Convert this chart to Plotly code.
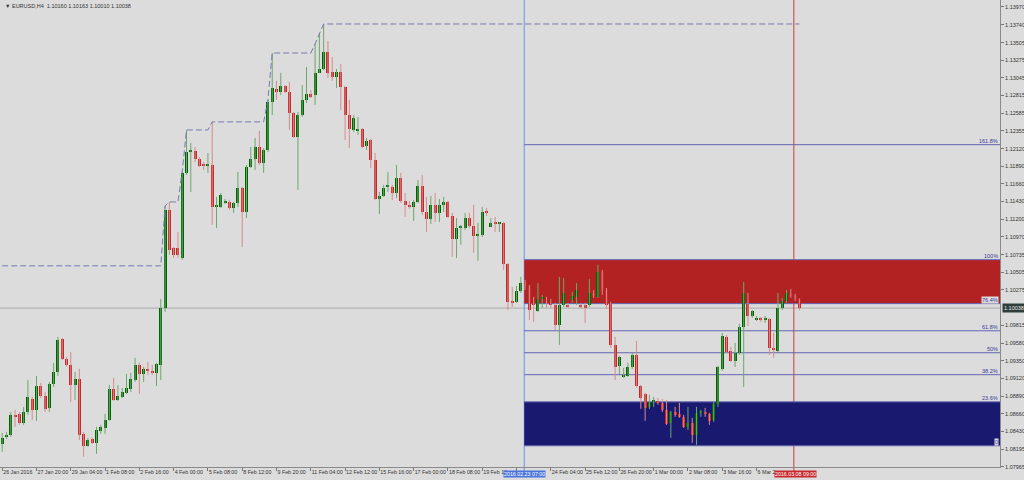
import numpy as np
import plotly.graph_objects as go

header_text = "EURUSD,H4  1.10160 1.10163 1.10010 1.10038"

opens = [1.08265, 1.08357, 1.08383, 1.08644, 1.08657, 1.08539, 1.08683, 1.08852, 1.08709, 1.09022,
         1.08891, 1.08735, 1.09048, 1.09205, 1.09636, 1.09375, 1.09297, 1.09035, 1.09114, 1.08396,
         1.08239, 1.08330, 1.08278, 1.08435, 1.08474, 1.08578, 1.08983, 1.08839, 1.08878, 1.08931,
         1.08983, 1.09100, 1.09297, 1.09179, 1.09231, 1.09218, 1.09192, 1.09297, 1.10041, 1.11320,
         1.10824, 1.10824, 1.10693, 1.11803, 1.12077, 1.12090, 1.11985, 1.11920, 1.11894, 1.11907,
         1.11359, 1.11359, 1.11411, 1.11424, 1.11346, 1.11411, 1.11607, 1.11294, 1.11881, 1.11985,
         1.12142, 1.11933, 1.12103, 1.12730, 1.12899, 1.12860, 1.12938, 1.12860, 1.12586, 1.12273,
         1.12560, 1.12756, 1.12834, 1.12821, 1.13108, 1.13160, 1.13382, 1.13121, 1.13056, 1.13121,
         1.12925, 1.12560, 1.12364, 1.12351, 1.12377, 1.12155, 1.12233, 1.11972, 1.11463, 1.11502,
         1.11620, 1.11620, 1.11542, 1.11737, 1.11437, 1.11385, 1.11359, 1.11424, 1.11633, 1.11294,
         1.11202, 1.11385, 1.11281, 1.11385, 1.11424, 1.11241, 1.10941, 1.11085, 1.11085, 1.11215,
         1.11111, 1.10980, 1.10993, 1.11294, 1.11098, 1.11150, 1.11137, 1.11150, 1.10614, 1.10132,
         1.10119, 1.10262, 1.10380, 1.10314, 1.10106, 1.10001, 1.10158, 1.10119, 1.10106, 1.10080,
         1.09819, 1.10080, 1.10080, 1.10145, 1.10184, 1.10080, 1.10080, 1.10080, 1.10236, 1.10184,
         1.10511, 1.10275, 1.10106, 1.09558, 1.09284, 1.09140, 1.09153, 1.09271, 1.09427, 1.09022,
         1.08918, 1.08748, 1.08813, 1.08813, 1.08800, 1.08709, 1.08539, 1.08683, 1.08657, 1.08618,
         1.08487, 1.08539, 1.08383, 1.08670, 1.08683, 1.08657, 1.08578, 1.08787, 1.09244, 1.09662,
         1.09479, 1.09349, 1.09453, 1.09793, 1.10093, 1.09936, 1.09884, 1.09910, 1.09884, 1.09897,
         1.09519, 1.09479, 1.10041, 1.10132, 1.10236, 1.10197, 1.10160]
highs = [1.08409, 1.08422, 1.08683, 1.08709, 1.08683, 1.08748, 1.09100, 1.08878, 1.09152, 1.09061,
         1.08944, 1.09074, 1.09323, 1.09662, 1.09649, 1.09401, 1.09466, 1.09205, 1.09244, 1.08422,
         1.08344, 1.08344, 1.08487, 1.08513, 1.08657, 1.09035, 1.09126, 1.09035, 1.08996, 1.09179,
         1.09192, 1.09388, 1.09323, 1.09271, 1.09336, 1.09297, 1.09323, 1.10158, 1.11372, 1.11424,
         1.10837, 1.11033, 1.11816, 1.12364, 1.12194, 1.12142, 1.12011, 1.11946, 1.12064, 1.12469,
         1.11489, 1.11541, 1.11463, 1.11450, 1.11424, 1.11816, 1.11620, 1.11907, 1.12142, 1.12259,
         1.12351, 1.12129, 1.12756, 1.13369, 1.13004, 1.13108, 1.12951, 1.12991, 1.12599, 1.12599,
         1.12951, 1.13186, 1.12886, 1.13487, 1.13630, 1.13748, 1.13526, 1.13317, 1.13160, 1.13225,
         1.12938, 1.12756, 1.12560, 1.12534, 1.12390, 1.12259, 1.12246, 1.12064, 1.11555, 1.11646,
         1.11816, 1.11646, 1.11907, 1.11803, 1.11541, 1.11437, 1.11450, 1.11711, 1.11777, 1.11489,
         1.11502, 1.11541, 1.11463, 1.11489, 1.11437, 1.11281, 1.11215, 1.11124, 1.11281, 1.11281,
         1.11385, 1.11150, 1.11359, 1.11346, 1.11215, 1.11228, 1.11163, 1.11163, 1.10627, 1.10314,
         1.10327, 1.10445, 1.10406, 1.10341, 1.10184, 1.10367, 1.10210, 1.10184, 1.10158, 1.10106,
         1.10445, 1.10432, 1.10106, 1.10249, 1.10367, 1.10106, 1.10106, 1.10419, 1.10275, 1.10602,
         1.10536, 1.10301, 1.10119, 1.09662, 1.09414, 1.09258, 1.09323, 1.09453, 1.09610, 1.09035,
         1.08931, 1.08905, 1.08878, 1.08865, 1.08852, 1.08839, 1.08696, 1.08748, 1.08800, 1.08644,
         1.08748, 1.08605, 1.08748, 1.08709, 1.08735, 1.08670, 1.08813, 1.09284, 1.09714, 1.09688,
         1.09532, 1.09584, 1.09832, 1.10380, 1.10236, 1.10014, 1.09936, 1.09923, 1.09936, 1.09910,
         1.09714, 1.10236, 1.10171, 1.10275, 1.10288, 1.10223, 1.10163]
lows = [1.08161, 1.08330, 1.08357, 1.08487, 1.08513, 1.08513, 1.08644, 1.08578, 1.08565, 1.08865,
        1.08683, 1.08683, 1.09009, 1.09153, 1.09362, 1.09271, 1.08813, 1.08839, 1.08317, 1.08095,
        1.08226, 1.08265, 1.08135, 1.08396, 1.08396, 1.08565, 1.08826, 1.08826, 1.08865, 1.08918,
        1.08944, 1.09074, 1.08918, 1.09074, 1.09166, 1.09166, 1.09022, 1.09100, 1.09988, 1.10732,
        1.10693, 1.10693, 1.10667, 1.11777, 1.11555, 1.11946, 1.11881, 1.11842, 1.11803, 1.11124,
        1.11085, 1.11346, 1.11398, 1.11320, 1.11281, 1.11359, 1.10837, 1.11215, 1.11868, 1.11842,
        1.11907, 1.11803, 1.12077, 1.12560, 1.12756, 1.12821, 1.12847, 1.12364, 1.12259, 1.11581,
        1.12534, 1.12717, 1.12782, 1.12691, 1.13108, 1.13147, 1.13043, 1.13004, 1.12912, 1.12625,
        1.12233, 1.12129, 1.12338, 1.12299, 1.12129, 1.12103, 1.11868, 1.11450, 1.11267, 1.11489,
        1.11555, 1.11450, 1.11476, 1.11411, 1.11228, 1.11333, 1.11176, 1.11411, 1.11254, 1.11033,
        1.11137, 1.11163, 1.11163, 1.11294, 1.11215, 1.10706, 1.10693, 1.10863, 1.11059, 1.11085,
        1.10759, 1.10654, 1.10967, 1.11241, 1.11098, 1.11033, 1.11033, 1.10536, 1.10014, 1.10053,
        1.10106, 1.10236, 1.10275, 1.09884, 1.09858, 1.09988, 1.10041, 1.10041, 1.10041, 1.09753,
        1.09558, 1.10053, 1.10041, 1.10106, 1.10080, 1.10027, 1.09845, 1.10053, 1.10171, 1.10171,
        1.10210, 1.10027, 1.09519, 1.09100, 1.09179, 1.09127, 1.09140, 1.09244, 1.08996, 1.08722,
        1.08565, 1.08722, 1.08748, 1.08774, 1.08683, 1.08513, 1.08344, 1.08618, 1.08605, 1.08474,
        1.08448, 1.08278, 1.08252, 1.08618, 1.08618, 1.08513, 1.08552, 1.08748, 1.09218, 1.09453,
        1.09336, 1.09271, 1.09427, 1.09009, 1.09806, 1.09910, 1.09871, 1.09858, 1.09845, 1.09427,
        1.09388, 1.09453, 1.10014, 1.10106, 1.10171, 1.10132, 1.10010]
closes = [1.08344, 1.08383, 1.08644, 1.08618, 1.08539, 1.08683, 1.08878, 1.08709, 1.09022, 1.08891,
          1.08722, 1.09048, 1.09205, 1.09623, 1.09375, 1.09297, 1.09035, 1.09114, 1.08383, 1.08239,
          1.08317, 1.08278, 1.08448, 1.08487, 1.08578, 1.08983, 1.08839, 1.08891, 1.08944, 1.08996,
          1.09114, 1.09297, 1.09179, 1.09244, 1.09218, 1.09192, 1.09310, 1.10041, 1.11320, 1.10798,
          1.10732, 1.10732, 1.11803, 1.12077, 1.12103, 1.11985, 1.11894, 1.11894, 1.11907, 1.11359,
          1.11385, 1.11515, 1.11437, 1.11346, 1.11411, 1.11607, 1.11294, 1.11881, 1.11985, 1.12142,
          1.11933, 1.12103, 1.12730, 1.12912, 1.12860, 1.12938, 1.12860, 1.12586, 1.12273, 1.12560,
          1.12756, 1.12834, 1.12795, 1.13108, 1.13160, 1.13382, 1.13108, 1.13056, 1.13121, 1.12925,
          1.12560, 1.12377, 1.12521, 1.12377, 1.12142, 1.12220, 1.11972, 1.11463, 1.11502, 1.11607,
          1.11633, 1.11542, 1.11737, 1.11437, 1.11385, 1.11359, 1.11424, 1.11633, 1.11294, 1.11202,
          1.11385, 1.11281, 1.11385, 1.11424, 1.11228, 1.10941, 1.11085, 1.11098, 1.11215, 1.11111,
          1.10980, 1.11006, 1.11294, 1.11281, 1.11150, 1.11137, 1.11150, 1.10614, 1.10119, 1.10106,
          1.10262, 1.10367, 1.10327, 1.10014, 1.10080, 1.10158, 1.10184, 1.10106, 1.10080, 1.09819,
          1.10080, 1.10236, 1.10053, 1.10197, 1.10275, 1.10053, 1.10041, 1.10236, 1.10197, 1.10511,
          1.10275, 1.10080, 1.09558, 1.09271, 1.09401, 1.09166, 1.09271, 1.09427, 1.09022, 1.08865,
          1.08735, 1.08813, 1.08826, 1.08800, 1.08709, 1.08526, 1.08683, 1.08644, 1.08618, 1.08487,
          1.08539, 1.08383, 1.08670, 1.08683, 1.08657, 1.08565, 1.08787, 1.09271, 1.09675, 1.09466,
          1.09349, 1.09453, 1.09793, 1.10236, 1.09936, 1.10001, 1.09910, 1.09884, 1.09910, 1.09519,
          1.09492, 1.10041, 1.10132, 1.10236, 1.10197, 1.10158, 1.10038]

tick_bars = list(range(0, 177, 8))
# labels partly covered by the time-marker boxes show only their visible part, as in the terminal
tick_labels = ["26 Jan 2016", "27 Jan 20:00", "29 Jan 04:00", "1 Feb 08:00", "2 Feb 16:00",
               "4 Feb 00:00", "5 Feb 08:00", "8 Feb 12:00", "9 Feb 20:00", "11 Feb 04:00",
               "12 Feb 12:00", "15 Feb 16:00", "17 Feb 00:00", "18 Feb 08:00", "19 Feb 16",
               "", "24 Feb 04:00", "25 Feb 12:00", "26 Feb 20:00", "1 Mar 00:00",
               "2 Mar 08:00", "3 Mar 16:00", "6 Mar 2"]

price_ticks = [1.13970, 1.13740, 1.13505, 1.13275, 1.13045, 1.12815, 1.12585, 1.12355, 1.12120,
               1.11890, 1.11660, 1.11430, 1.11200, 1.10970, 1.10735, 1.10505, 1.10275, 1.09815,
               1.09580, 1.09350, 1.09120, 1.08890, 1.08660, 1.08430, 1.08195, 1.07965]

current_price = 1.10038
prior_high = 1.1059          # running high carried in from before the visible window
fib_low = 1.0824
fib_high = 1.1067
fib_levels = [0, 23.6, 38.2, 50, 61.8, 76.4, 100, 161.8]
fib_texts = ["0", "23.6%", "38.2%", "50%", "61.8%", "76.4%", "100%", "161.8%"]
blue_marker_bar = 121.8
blue_marker_text = "2016.02.23 07:00"
red_marker_bar = 184.7
red_marker_text = "2016.03.08 09:00"

BG = "#dcdcdc"
BULL = "#006400"
BEAR = "#c62828"
BULL_WICK = "#6aa86a"
BEAR_WICK = "#d98a8a"
FONT = "Liberation Sans"

n = len(opens)
idx = np.arange(n)
o = np.array(opens); h = np.array(highs); l = np.array(lows); c = np.array(closes)
bull = c >= o

x_min, x_max = -0.513, 232.8
y_min, y_max = 1.07963, 1.14061

fig = go.Figure()


def wick_xy(mask):
    xs, ys = [], []
    for i in idx[mask]:
        xs += [i, i, None]
        ys += [l[i], h[i], None]
    return xs, ys


for mask, col in [(bull, BULL_WICK), (~bull, BEAR_WICK)]:
    xs, ys = wick_xy(mask)
    fig.add_trace(go.Scatter(x=xs, y=ys, mode="lines", line=dict(color=col, width=1),
                             hoverinfo="skip", showlegend=False))

body_base = np.minimum(o, c)
body_len = np.maximum(np.abs(c - o), 0.00012)
fig.add_trace(go.Bar(x=idx, y=body_len, base=body_base, width=0.7,
                     marker=dict(color=[BULL if b else BEAR for b in bull], line=dict(width=0)),
                     showlegend=False, hoverinfo="skip"))

running_high = np.maximum.accumulate(np.maximum(h, prior_high))
fig.add_trace(go.Scatter(x=idx, y=running_high, mode="lines",
                         line=dict(color="#7878b4", width=1, dash="6px,3px"),
                         hoverinfo="skip", showlegend=False))

shapes = []
fib_price = [fib_low + (fib_high - fib_low) * lv / 100 for lv in fib_levels]
lvl = dict(zip(fib_levels, fib_price))
shapes.append(dict(type="rect", xref="x", yref="y", x0=blue_marker_bar, x1=x_max,
                   y0=lvl[76.4], y1=lvl[100], fillcolor="#b22222", line=dict(width=0), layer="below"))
shapes.append(dict(type="rect", xref="x", yref="y", x0=blue_marker_bar, x1=x_max,
                   y0=lvl[0], y1=lvl[23.6], fillcolor="#191970", line=dict(width=0), layer="below"))
shapes.append(dict(type="line", xref="paper", yref="y", x0=0, x1=1, y0=current_price, y1=current_price,
                   line=dict(color="#ababab", width=1), layer="below"))
for p in fib_price:
    shapes.append(dict(type="line", xref="x", yref="y", x0=blue_marker_bar, x1=x_max, y0=p, y1=p,
                       line=dict(color="#6464b4", width=1), layer="below"))
shapes.append(dict(type="line", xref="x", yref="paper", x0=blue_marker_bar, x1=blue_marker_bar,
                   y0=-0.01, y1=1, line=dict(color="#6495ed", width=1), layer="below"))
shapes.append(dict(type="line", xref="x", yref="paper", x0=red_marker_bar, x1=red_marker_bar,
                   y0=-0.01, y1=1, line=dict(color="#d23c3c", width=1), layer="below"))

annotations = []
annotations.append(dict(xref="paper", yref="paper", x=0.003, y=0.998, xanchor="left", yanchor="top",
                        text="▼ " + header_text, showarrow=False,
                        font=dict(family=FONT, size=5.5, color="#333333")))
for lv, p, t in zip(fib_levels, fib_price, fib_texts):
    box = lv in (0, 76.4)
    annotations.append(dict(xref="paper", yref="y", x=0.999, y=p, xanchor="right",
                            yanchor="bottom", text=t, showarrow=False, borderpad=0,
                            bgcolor=BG if box else None,
                            font=dict(family=FONT, size=5.5, color="#3a3a9a")))
annotations.append(dict(xref="paper", yref="y", x=1, y=current_price, xanchor="left", xshift=2,
                        text=f"{current_price:.5f}", showarrow=False, bgcolor="#2e3e3a", borderpad=1,
                        font=dict(family=FONT, size=5.5, color="#e8e8e8")))
for xb, t, col, dx in [(blue_marker_bar, blue_marker_text, "#4a74dc", 0),
                       (red_marker_bar, red_marker_text, "#c8282d", 2)]:
    annotations.append(dict(xref="x", yref="paper", x=xb, y=0, yanchor="top", yshift=-3, xshift=dx,
                            text=t, showarrow=False, bgcolor=col, borderpad=0,
                            font=dict(family=FONT, size=5.3, color="#ffffff")))

fig.update_layout(
    width=1024, height=480,
    margin=dict(l=0, r=24, t=0, b=13),
    paper_bgcolor=BG, plot_bgcolor=BG,
    barmode="overlay", bargap=0,
    showlegend=False,
    shapes=shapes, annotations=annotations,
    font=dict(family=FONT, size=5.5, color="#333333"),
    xaxis=dict(range=[x_min, x_max], tickmode="array", tickvals=tick_bars, ticktext=tick_labels,
               ticks="outside", ticklen=3, tickcolor="#777777", ticklabelposition="outside right",
               tickangle=0, automargin=False,
               tickfont=dict(family=FONT, size=5.3, color="#333333"),
               showline=True, linecolor="#8a8a8a", linewidth=1, mirror=True,
               showgrid=False, zeroline=False, fixedrange=True),
    yaxis=dict(range=[y_min, y_max], side="right", tickmode="array", tickvals=price_ticks,
               ticktext=[f"{v:.5f}" for v in price_ticks], automargin=False,
               ticks="outside", ticklen=3, tickcolor="#777777",
               tickfont=dict(family=FONT, size=5.5, color="#333333"),
               showline=True, linecolor="#8a8a8a", linewidth=1, mirror=True,
               showgrid=False, zeroline=False, fixedrange=True),
)

fig.write_html("out.html", config={"displayModeBar": False},
               post_script="document.body.style.margin='0';document.body.style.overflow='hidden';")
